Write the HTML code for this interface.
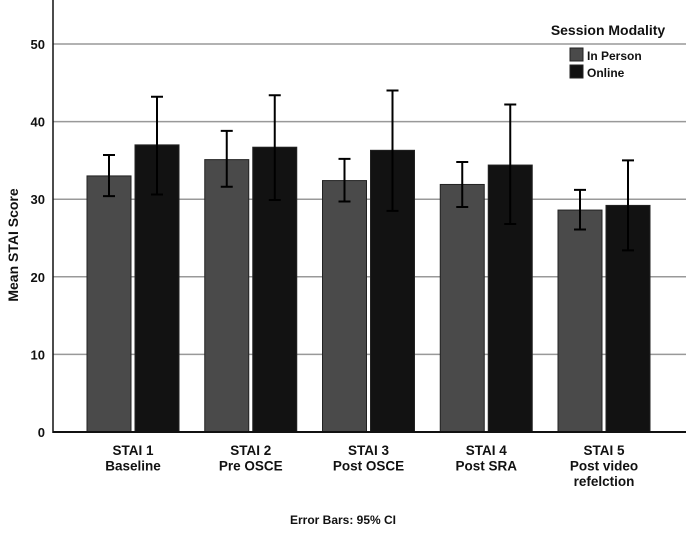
<!DOCTYPE html>
<html><head><meta charset="utf-8">
<style>
html,body{margin:0;padding:0;background:#fff;}
svg{display:block;font-family:"Liberation Sans Narrow","Liberation Sans",sans-serif;font-weight:bold;}
</style></head>
<body>
<svg id="chart" width="686" height="533" viewBox="0 0 686 533">
<g id="grid"></g>
<g id="bars"></g>
<g id="axes"></g>
<text x="18" y="245" transform="rotate(-90 18 245)" text-anchor="middle" font-size="14" fill="#111">Mean STAI Score</text>
<g>
<text x="608" y="35" text-anchor="middle" font-size="14" fill="#111">Session Modality</text>
<rect x="570" y="48" width="13" height="13" fill="#4a4a4a" stroke="#222" stroke-width="1"/>
<text x="587" y="60" font-size="12" fill="#111">In Person</text>
<rect x="570" y="65" width="13" height="13" fill="#111" stroke="#222" stroke-width="1"/>
<text x="587" y="77" font-size="12" fill="#111">Online</text>
</g>
<text x="343" y="524" text-anchor="middle" font-size="12" fill="#111">Error Bars: 95% CI</text>
</svg>
<script>
const categories = [["STAI 1","Baseline"],["STAI 2","Pre OSCE"],["STAI 3","Post OSCE"],["STAI 4","Post SRA"],["STAI 5","Post video","refelction"]];
const inPerson = [33.0, 35.1, 32.4, 31.9, 28.6];
const online = [37.0, 36.7, 36.3, 34.4, 29.2];
const inPersonLow = [30.4, 31.6, 29.7, 29.0, 26.1];
const inPersonHigh = [35.7, 38.8, 35.2, 34.8, 31.2];
const onlineLow = [30.6, 29.9, 28.5, 26.8, 23.4];
const onlineHigh = [43.2, 43.4, 44.0, 42.2, 35.0];
const yTicks = [0, 10, 20, 30, 40, 50];

const NS = "http://www.w3.org/2000/svg";
const x0 = 53, x1 = 686, yBase = 432, pxPerUnit = 7.76;
const y = v => yBase - v * pxPerUnit;
const groupStart = i => 87 + i * 117.75;
const barW = 44, gap = 4;
function mk(tag, attrs, parent){const e=document.createElementNS(NS,tag);for(const k in attrs)e.setAttribute(k,attrs[k]);parent.appendChild(e);return e;}
const grid = document.getElementById('grid'), bars = document.getElementById('bars'), axes = document.getElementById('axes');

yTicks.forEach(t => {
  if (t > 0) {
    const l = mk('line',{x1:x0,x2:x1,y1:y(t),y2:y(t),stroke:'#999','stroke-width':1.5},grid);
    
    
  }
  const tx = mk('text',{x:45,y:y(t)+5,'text-anchor':'end','font-size':13,fill:'#111'},axes);
  tx.textContent = t;
  
  
});
const ya = mk('line',{x1:x0,x2:x0,y1:0,y2:yBase+1,stroke:'#111','stroke-width':1.5},axes);


const xa = mk('line',{x1:x0,x2:x1,y1:yBase,y2:yBase,stroke:'#111','stroke-width':2},axes);



function drawBar(xl, v, lo, hi, fill, name){
  const r = mk('rect',{x:xl,y:y(v),width:barW,height:yBase-y(v),fill:fill,stroke:'#222','stroke-width':1},bars);
  
  
  const cx = xl + barW/2;
  const e = mk('path',{d:`M${cx},${y(lo)}V${y(hi)}M${cx-6},${y(lo)}H${cx+6}M${cx-6},${y(hi)}H${cx+6}`,stroke:'#000','stroke-width':2,fill:'none'},bars);
  
  
}
categories.forEach((c,i) => {
  const gx = groupStart(i);
  drawBar(gx, inPerson[i], inPersonLow[i], inPersonHigh[i], '#4a4a4a', 'bar-in-person-'+(i+1));
  drawBar(gx+barW+gap, online[i], onlineLow[i], onlineHigh[i], '#121212', 'bar-online-'+(i+1));
  const t = mk('text',{'text-anchor':'middle','font-size':13.5,fill:'#111'},axes);
  
  
  c.forEach((line,j) => {
    const s = mk('tspan',{x:gx+barW+gap/2,y:455+j*15.5},t);
    s.textContent = line;
  });
});
</script>
</body></html>
